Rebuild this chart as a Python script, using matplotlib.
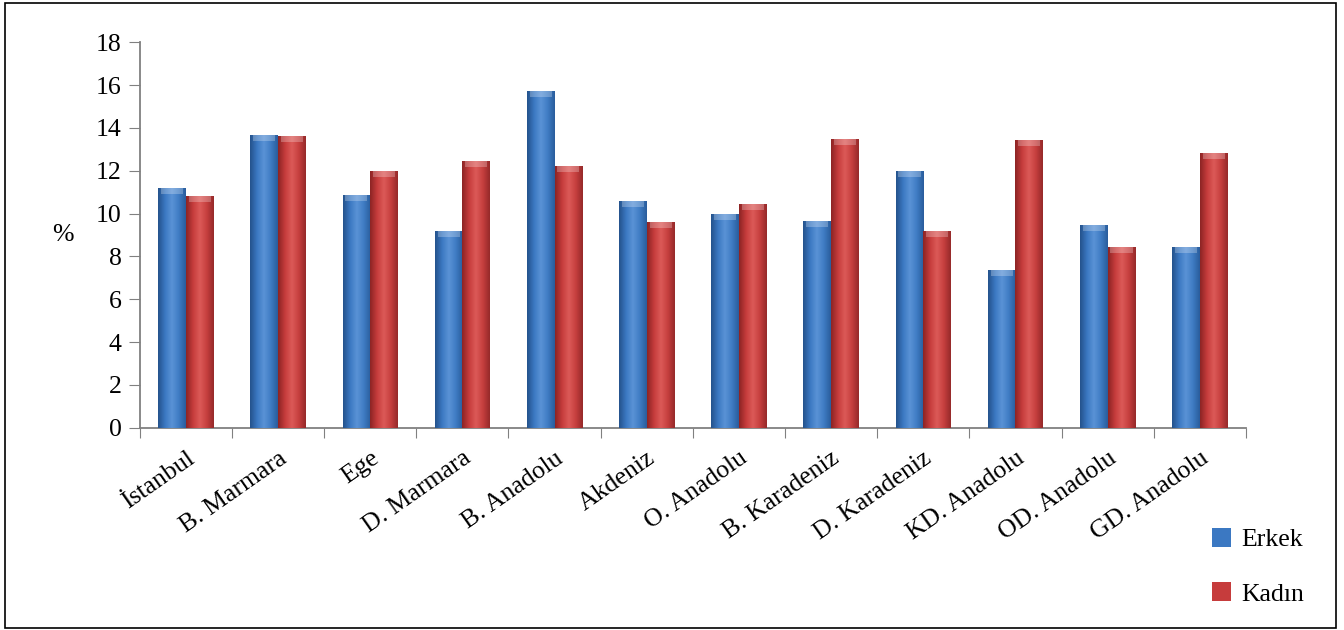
import numpy as np
import matplotlib.pyplot as plt
from matplotlib.colors import LinearSegmentedColormap

# Region names and values (%)
regions = ["İstanbul", "B. Marmara", "Ege", "D. Marmara", "B. Anadolu", "Akdeniz",
           "O. Anadolu", "B. Karadeniz", "D. Karadeniz", "KD. Anadolu", "OD. Anadolu",
           "GD. Anadolu"]
erkek = [11.2, 13.65, 10.85, 9.2, 15.7, 10.6, 10.0, 9.65, 12.0, 7.35, 9.45, 8.45]
kadin = [10.8, 13.6, 12.0, 12.45, 12.2, 9.6, 10.45, 13.5, 9.2, 13.45, 8.45, 12.85]

plt.rcParams["font.family"] = ["Liberation Serif", "DejaVu Serif"]
fs = 18.5

fig = plt.figure(figsize=(13.44, 6.3), dpi=100)
ax = fig.add_axes([0.104, 0.321, 0.823, 0.612])

x = np.arange(len(regions))
w = 0.3

blue_cmap = LinearSegmentedColormap.from_list(
    "b", ["#24528c", "#3b78c2", "#5a93d6", "#3f7cc4", "#2a5d9c"])
red_cmap = LinearSegmentedColormap.from_list(
    "r", ["#8c2424", "#c63c3c", "#dc5a58", "#c63f3e", "#962a2a"])

grad = np.linspace(0, 1, 64).reshape(1, -1)

def shaded_bars(xs, vals, cmap, solid, label):
    bars = ax.bar(xs, vals, w, color=solid, edgecolor="none", label=label, zorder=2)
    for b in bars:
        x0, y0 = b.get_x(), b.get_y()
        bw, bh = b.get_width(), b.get_height()
        im = ax.imshow(grad, cmap=cmap, aspect="auto", zorder=3,
                       extent=[x0, x0 + bw, y0, y0 + bh], interpolation="bicubic")
        im.set_clip_path(b)
        # light cap at the top of the bar
        ax.fill_between([x0 + bw * 0.1, x0 + bw * 0.9], y0 + bh - 0.28, y0 + bh,
                        color="white", alpha=0.25, lw=0, zorder=4)
    return bars

shaded_bars(x - w / 2, erkek, blue_cmap, "#3b78c2", "Erkek")
shaded_bars(x + w / 2, kadin, red_cmap, "#c63c3c", "Kadın")

ax.set_xlim(-0.5, len(regions) - 0.5)
ax.set_ylim(0, 18)
ax.set_yticks(np.arange(0, 19, 2))

# ticks at category boundaries, labels at centers
ax.set_xticks(np.arange(-0.5, len(regions), 1))
ax.set_xticklabels([])
ax.set_xticks(x, minor=True)
ax.set_xticklabels(regions, minor=True, rotation=35, ha="right",
                   rotation_mode="anchor", fontsize=fs)
ax.tick_params(axis="x", which="minor", length=0, pad=14)
ax.tick_params(axis="x", which="major", length=7, color="#808080", direction="out")
ax.tick_params(axis="y", length=8, color="#808080", labelsize=fs, pad=5)

for s in ["top", "right"]:
    ax.spines[s].set_visible(False)
for s in ["left", "bottom"]:
    ax.spines[s].set_color("#808080")
    ax.spines[s].set_linewidth(1.3)

ax.set_ylabel("%", rotation=0, fontsize=fs, labelpad=24, va="center")

fig.legend(loc="upper left", bbox_to_anchor=(1212 / 1344, 1 - 528 / 630),
           frameon=False, fontsize=fs, handlelength=0.75, handleheight=0.75,
           labelspacing=1.2, handletextpad=0.4, borderpad=0, borderaxespad=0)

# border round the whole figure
fig.patches.append(plt.Rectangle((5 / 1344, 2 / 630), 1331 / 1344, 625 / 630,
                                 transform=fig.transFigure, fill=False,
                                 edgecolor="black", lw=1.2))

fig.savefig("out.png", dpi=100)
